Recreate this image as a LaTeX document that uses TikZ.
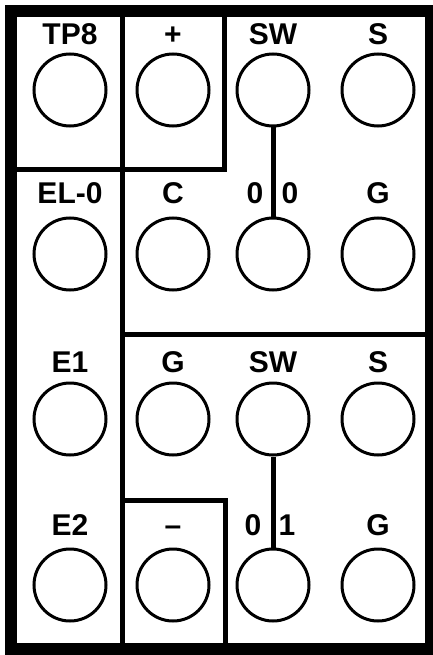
\documentclass[tikz,border=0pt]{standalone}
\usepackage{fontspec}
\setmainfont{Liberation Sans}
\tikzset{jack/.style={circle,draw,line width=3pt,minimum size=72pt,inner sep=0pt},
  tag/.style={anchor=base,inner sep=0pt,font=\fontsize{30}{30}\selectfont\bfseries},
  wall/.style={line width=5pt},
  rim/.style={line width=12pt}}
\begin{document}
\begin{tikzpicture}[x=1pt,y=-1pt]
\useasboundingbox (0,0) rectangle (432,655);
% frame and partitions
\draw[rim] (11,11) rectangle (431,649);
\draw[wall] (122,11)--(122,649);
\draw[wall] (17,170)--(224,170)--(224,11);
\draw[wall] (122,334)--(425,334);
\draw[wall] (122,500)--(225,500)--(225,643);
% jacks
\node[jack] (tp8) at (70,90){};
\node[jack] (plus) at (173,90){};
\node[jack] (swa) at (273,90){};
\node[jack] (sa) at (378,90){};
\node[jack] (elo) at (70,254){};
\node[jack] (c) at (173,254){};
\node[jack] (ooa) at (273,254){};
\node[jack] (ga) at (378,254){};
\node[jack] (e1) at (70,419){};
\node[jack] (gb) at (173,419){};
\node[jack] (swb) at (273,419){};
\node[jack] (sb) at (378,419){};
\node[jack] (e2) at (70,585){};
\node[jack] (minus) at (173,585){};
\node[jack] (oi) at (273,585){};
\node[jack] (gc) at (378,585){};
% links
\draw[wall] (swa)--(ooa);
\draw[wall] (swb)--(oi);
% labels
\node[tag] (ltp8) at (70,45){TP8};
\node[tag] (lplus) at (173,45){+};
\node[tag] (lswa) at (273,45){SW};
\node[tag] (lsa) at (378,45){S};
\node[tag] (lelo) at (70,203){EL-0};
\node[tag] (lc) at (173,203){C};
\node[tag] (looa) at (255,203){0};
\node[tag] (loob) at (290,203){0};
\node[tag] (lga) at (378,203){G};
\node[tag] (le1) at (70,372){E1};
\node[tag] (lgb) at (173,372){G};
\node[tag] (lswb) at (273,372){SW};
\node[tag] (lsb) at (378,372){S};
\node[tag] (le2) at (70,535){E2};
\node[tag] (lminus) at (173,535){\textendash};
\node[tag] (loia) at (253,535){0};
\node[tag] (loib) at (287,535){1};
\node[tag] (lgc) at (378,535){G};
\end{tikzpicture}
\end{document}
